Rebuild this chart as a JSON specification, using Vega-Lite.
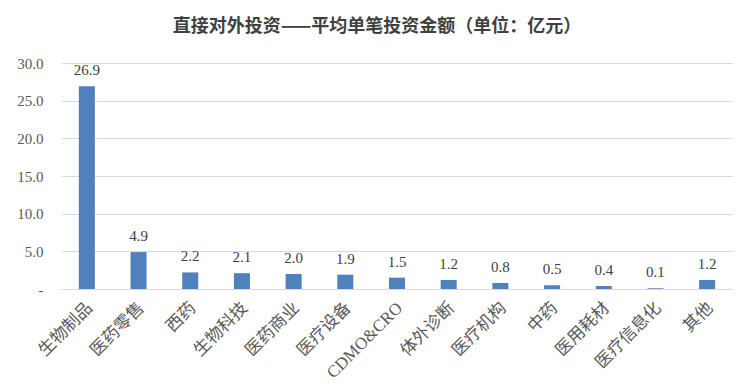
{
  "$schema": "https://vega.github.io/schema/vega-lite/v6.json",
  "autosize": "none",
  "padding": {"left": 61, "top": 63, "right": 22, "bottom": 103},
  "width": 672,
  "height": 226,
  "background": "white",
  "title": {
    "text": "直接对外投资——平均单笔投资金额（单位：亿元）",
    "font": "Noto Sans CJK SC",
    "fontSize": 18,
    "fontWeight": "bold",
    "color": "#404040",
    "anchor": "middle",
    "dx": -20,
    "offset": 20
  },
  "data": {
    "values": [
      {"cat": "生物制品", "v": 26.9},
      {"cat": "医药零售", "v": 4.9},
      {"cat": "西药", "v": 2.2},
      {"cat": "生物科技", "v": 2.1},
      {"cat": "医药商业", "v": 2.0},
      {"cat": "医疗设备", "v": 1.9},
      {"cat": "CDMO&CRO", "v": 1.5},
      {"cat": "体外诊断", "v": 1.2},
      {"cat": "医疗机构", "v": 0.8},
      {"cat": "中药", "v": 0.5},
      {"cat": "医用耗材", "v": 0.4},
      {"cat": "医疗信息化", "v": 0.1},
      {"cat": "其他", "v": 1.2}
    ]
  },
  "encoding": {
    "x": {
      "field": "cat",
      "type": "nominal",
      "sort": null,
      "scale": {"paddingInner": 0.69, "paddingOuter": 0.345},
      "axis": {
        "title": null,
        "labelAngle": -45,
        "labelAlign": "right",
        "labelBaseline": "middle",
        "labelFont": "Liberation Serif, Noto Sans CJK SC",
        "labelFontSize": 17,
        "labelColor": "#595959",
        "labelPadding": 16,
        "labelOffset": 3,
        "ticks": false,
        "domainColor": "#d9d9d9",
        "domainWidth": 1
      }
    },
    "y": {
      "field": "v",
      "type": "quantitative",
      "scale": {"domain": [0, 30], "nice": false},
      "axis": {
        "title": null,
        "values": [0, 5, 10, 15, 20, 25, 30],
        "labelExpr": "datum.value == 0 ? '-' : format(datum.value, '.1f')",
        "labelFont": "Liberation Serif",
        "labelFontSize": 15,
        "labelColor": "#595959",
        "labelPadding": 18,
        "ticks": false,
        "domain": false,
        "gridColor": "#d9d9d9",
        "gridWidth": 1
      }
    }
  },
  "layer": [
    {"mark": {"type": "bar", "color": "#4f81bd"}},
    {
      "mark": {
        "type": "text",
        "baseline": "bottom",
        "dy": -8,
        "font": "Liberation Serif",
        "fontSize": 15,
        "color": "#404040"
      },
      "encoding": {"text": {"field": "v", "type": "quantitative", "format": ".1f"}}
    }
  ],
  "config": {"view": {"stroke": null}}
}
